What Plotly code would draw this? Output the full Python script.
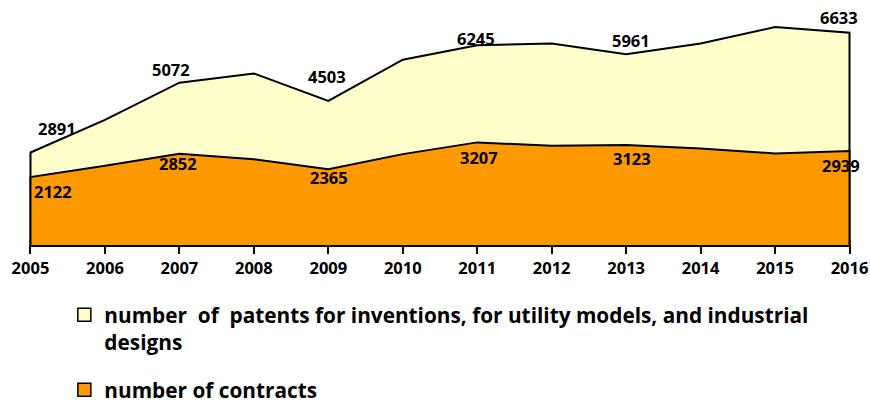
import plotly.graph_objects as go

years = [2005, 2006, 2007, 2008, 2009, 2010, 2011, 2012, 2013, 2014, 2015, 2016]
patents = [2891, 3910, 5072, 5360, 4503, 5790, 6245, 6300, 5961, 6300, 6810, 6633]
contracts = [2122, 2480, 2852, 2680, 2365, 2840, 3207, 3100, 3123, 3015, 2860, 2939]
labeled_idx = [0, 2, 4, 6, 8, 11]

patents_name = "number\u00a0 of\u00a0 patents for inventions, for utility models, and industrial<br>designs"
contracts_name = "number of contracts"

# label offsets (px) – styling only
pat_dx = [27, -8, -1, -1, 5, -11]
pat_dy = [24, 13, 24, 7, 14, 15]
con_dx = [23, -1, 1, 2, 6, -9]
con_dy = [-14, -10, -8, -15, -13, -15]

FONT = "Open Sans"

fig = go.Figure()

def closed(xs, ys):
    return [xs[0]] + xs + [xs[-1]], [0] + ys + [0]

px_, py_ = closed(years, patents)
fig.add_trace(go.Scatter(x=px_, y=py_, mode="lines", fill="toself",
                         fillcolor="#FFFFCC", line=dict(color="black", width=2),
                         showlegend=False, hoverinfo="skip"))
cx_, cy_ = closed(years, contracts)
fig.add_trace(go.Scatter(x=cx_, y=cy_, mode="lines", fill="toself",
                         fillcolor="#FF9900", line=dict(color="black", width=2),
                         showlegend=False, hoverinfo="skip"))

# legend entries
fig.add_trace(go.Scatter(x=[None], y=[None], mode="markers", name=patents_name,
                         legendgroup="a",
                         marker=dict(symbol="square", size=13, color="#FFFFCC",
                                     line=dict(color="black", width=1.5))))
fig.add_trace(go.Scatter(x=[None], y=[None], mode="markers", name=contracts_name,
                         legendgroup="b",
                         marker=dict(symbol="square", size=13, color="#FF9900",
                                     line=dict(color="black", width=1.5))))

ann = []
for k, i in enumerate(labeled_idx):
    ann.append(dict(x=years[i], y=patents[i], text=str(patents[i]), showarrow=False,
                    xshift=pat_dx[k], yshift=pat_dy[k],
                    font=dict(family=FONT, size=16.5, color="black", weight="bold")))
    ann.append(dict(x=years[i], y=contracts[i], text=str(contracts[i]), showarrow=False,
                    xshift=con_dx[k], yshift=con_dy[k],
                    font=dict(family=FONT, size=16.5, color="black", weight="bold")))

fig.update_layout(
    width=870, height=405,
    margin=dict(l=29, r=19, t=21, b=160, autoexpand=False),
    paper_bgcolor="white", plot_bgcolor="white",
    annotations=ann,
    xaxis=dict(range=[2004.98, 2016.02], tickmode="array", tickvals=years,
               ticktext=[str(y) for y in years], showgrid=False, zeroline=False,
               showline=True, linecolor="black", linewidth=2, automargin=False,
               ticks="outside", ticklen=7, tickwidth=1.5, tickcolor="black",
               tickfont=dict(family=FONT, size=16.5, color="black", weight="bold")),
    yaxis=dict(range=[0, 7000], visible=False, showgrid=False, zeroline=False),
    showlegend=True,
    legend=dict(x=0.043, y=-0.222, xanchor="left", yanchor="top", valign="top",
                tracegroupgap=18, bgcolor="rgba(0,0,0,0)",
                font=dict(family=FONT, size=20.8, color="black", weight="bold")),
)

fig.write_html("out.html",
               config={"displayModeBar": False},
               post_script="document.body.style.margin='0';"
                           "document.body.style.overflow='hidden';")
